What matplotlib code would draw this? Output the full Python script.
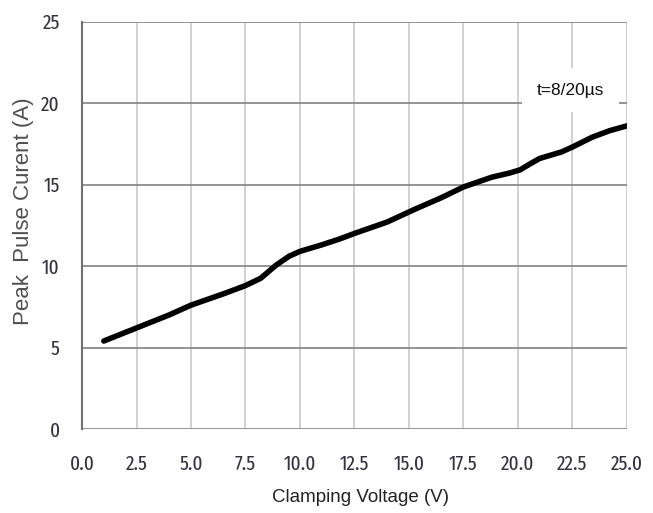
import numpy as np
import matplotlib.pyplot as plt

plt.rcParams['font.family'] = ['Liberation Sans', 'DejaVu Sans']

# clamping voltage (V) vs peak pulse current (A)
voltage = [1.0, 2.5, 4.0, 5.0, 6.5, 7.5, 8.2, 8.9, 9.5, 10.0, 11.0, 11.8, 12.5,
           14.0, 15.3, 16.5, 17.5, 18.8, 19.6, 20.1, 20.6, 21.0, 21.5, 22.0, 22.5,
           23.4, 24.2, 25.0]
current = [5.4, 6.2, 7.0, 7.6, 8.3, 8.8, 9.25, 10.05, 10.6, 10.9, 11.3, 11.65, 12.0,
           12.7, 13.5, 14.2, 14.85, 15.45, 15.7, 15.9, 16.3, 16.6, 16.8, 17.0, 17.3,
           17.9, 18.3, 18.6]

xticks = np.arange(0, 25.01, 2.5)
yticks = [0, 5, 10, 15, 20, 25]

fig = plt.figure(figsize=(6.53, 5.13), dpi=100)
ax = fig.add_axes([0.1256, 0.1637, 0.8344, 0.7943])

for x in xticks:
    ax.axvline(x, color='#c8c8c8', lw=1.2, zorder=1)
for y in yticks:
    ax.axhline(y, color='#8a8a8a', lw=1.3, zorder=1)

ax.plot(voltage, current, color='black', lw=4.0, solid_capstyle='round',
        solid_joinstyle='round', zorder=3)

ax.text(22.43, 20.8, 't=8/20µs', fontsize=12.5, color='#111111',
        ha='center', va='center', zorder=4,
        bbox=dict(boxstyle='square,pad=0.85', fc='white', ec='none'))

ax.set_xlim(0, 25)
ax.set_ylim(0, 25)
ax.set_xticks(xticks)
ax.set_xticklabels(['%.1f' % x for x in xticks])
ax.set_yticks(yticks)
ax.tick_params(length=0, labelsize=15, colors='#333340')
ax.tick_params(axis='x', pad=18)
ax.tick_params(axis='y', pad=16)
for lab in ax.get_xticklabels() + ax.get_yticklabels():
    lab.set_family(['Fira Sans Extra Condensed', 'Archivo Narrow', 'Liberation Sans'])

for s in ax.spines.values():
    s.set_visible(False)
ax.spines['left'].set_visible(True)
ax.spines['left'].set_color('#707070')
ax.spines['left'].set_linewidth(1.5)

ax.set_xlabel('Clamping Voltage (V)', fontsize=13.5, color='#222222', va='center')
ax.xaxis.set_label_coords(0.512, -0.169)
ax.set_ylabel('Peak  Pulse Curent (A)', fontsize=16, color='#505050', va='center')
ax.yaxis.set_label_coords(-0.108, 0.535)

fig.savefig('out.png', dpi=100)
